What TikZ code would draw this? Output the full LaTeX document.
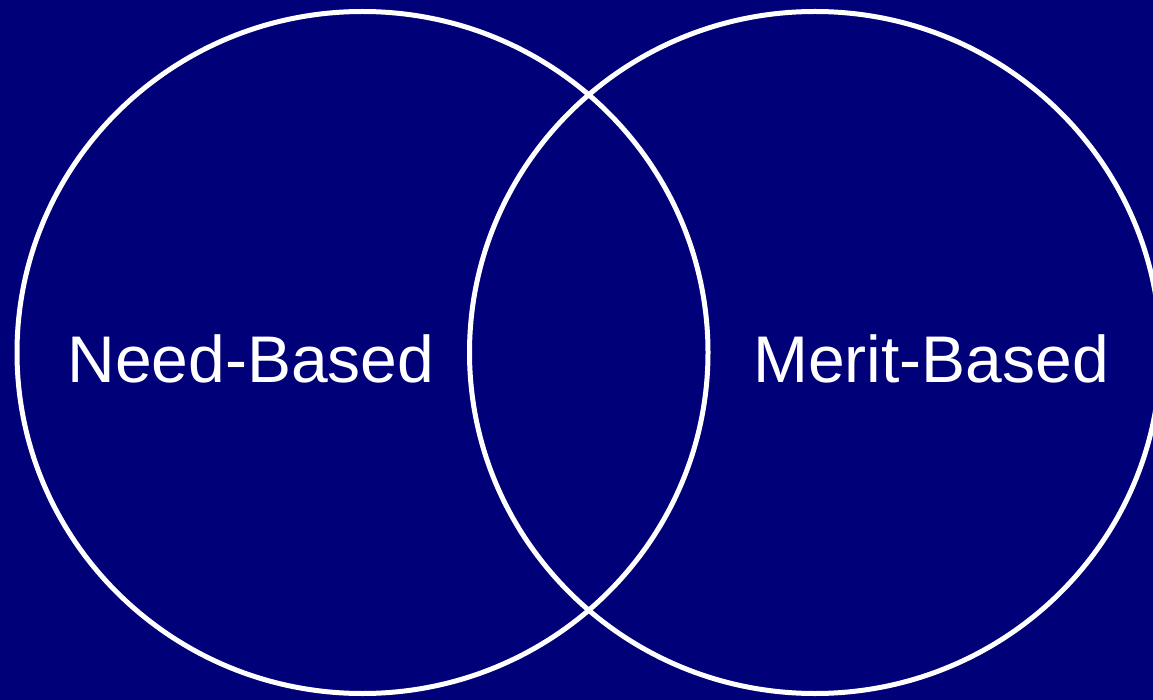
\documentclass[tikz,border=0pt]{standalone}
\usepackage{fontspec}
\setmainfont{Liberation Sans}
\usepackage{xcolor}
\usepackage{tikz}
\usetikzlibrary{positioning,shapes.geometric}
\definecolor{navybg}{RGB}{0,0,120}

\begin{document}
\begin{tikzpicture}[
        x=1pt, y=-1pt,
        setring/.style={ellipse, draw=white, line width=5pt, minimum width=691pt, minimum height=682pt, inner sep=0pt},
        setlabel/.style={text=white, anchor=base, font=\fontsize{66}{78}\selectfont}
    ]
    
    % Background
    \fill[navybg] (0,0) rectangle (1153,700);
    \useasboundingbox (0,0) rectangle (1153,700);
    
    % Sets
    \node[setring] (need) at (362.5,352.5) {};
    \node[setring] (merit) at (815,352.5) {};
    
    % Labels
    \node[setlabel] (needlabel) at (251,382) {Need-Based};
    \node[setlabel] (meritlabel) at (931,382) {Merit-Based};
    
    \end{tikzpicture}
\end{document}
